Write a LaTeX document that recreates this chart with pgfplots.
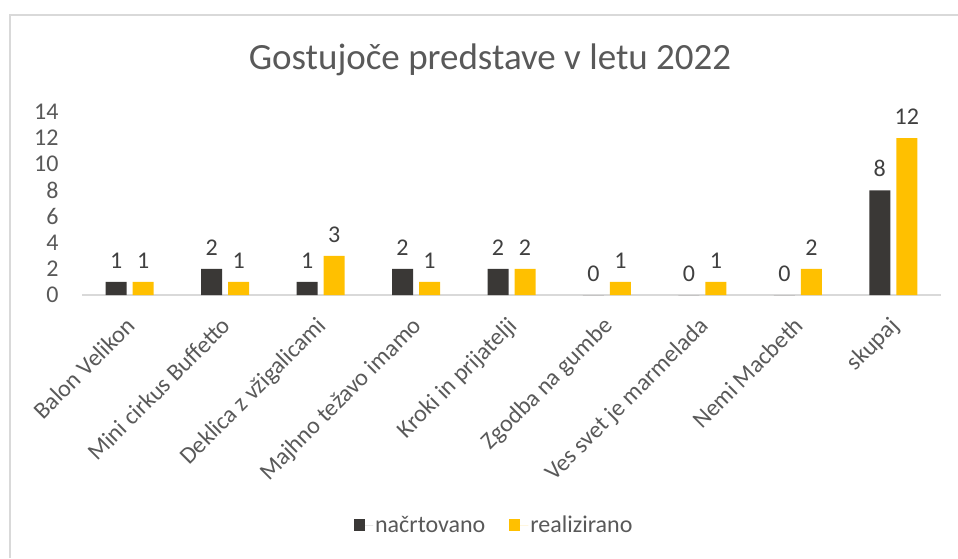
\documentclass[border=0pt]{standalone}
\usepackage{pgfplots}
\pgfplotsset{compat=1.18}
\usepackage{fontspec}
\setmainfont{Carlito}
\definecolor{dk}{HTML}{3A3836}
\definecolor{gd}{HTML}{FFC000}
\definecolor{txt}{HTML}{595959}
\definecolor{lbl}{HTML}{404040}
\definecolor{axl}{HTML}{D9D9D9}
\begin{document}
\begin{tikzpicture}[x=1pt,y=1pt]
\useasboundingbox (0,0) rectangle (958,558);
\draw[axl,line width=1.5pt] (10,0) -- (10,543) -- (958,543);
\node[txt,font=\fontsize{37}{44}\selectfont] at (490,498) {Gostujoče predstave v letu 2022};
\begin{axis}[
  at={(82pt,263pt)}, anchor=south west,
  scale only axis, width=859pt, height=183pt,
  xmin=-0.5, xmax=8.5, ymin=0, ymax=14,
  ybar=6pt, bar width=21pt,
  axis y line=none, axis x line*=bottom,
  x axis line style={axl,line width=1.2pt,-},
  xtick={0,...,8}, xtick style={draw=none},
  xticklabels={Balon Velikon,Mini cirkus Buffetto,Deklica z vžigalicami,Majhno težavo imamo,Kroki in prijatelji,Zgodba na gumbe,Ves svet je marmelada,Nemi Macbeth,skupaj},
  xticklabel style={xshift=-5pt,yshift=-16pt,rotate=45,anchor=north east,font=\fontsize{24}{28}\selectfont,text=txt,inner sep=0pt},
  enlargelimits=false,
  clip=false,
  nodes near coords,
  nodes near coords style={font=\fontsize{24}{28}\selectfont,text=lbl,anchor=south,yshift=10pt},
  /pgf/number format/assume math mode=true,
  legend columns=2,
  legend style={at={(0.48,-1.257)},anchor=center,draw=none,font=\fontsize{24}{28}\selectfont,text=txt,
    /tikz/every even column/.append style={column sep=22pt},
    /tikz/every odd column/.append style={column sep=0pt}},
  legend image code/.code={\fill[#1] (0pt,-6pt) rectangle (11pt,6pt); \path (0pt,0pt) -- (19pt,0pt);},
]
\addplot[fill=dk,draw=none] coordinates {(0,1) (1,2) (2,1) (3,2) (4,2) (5,0) (6,0) (7,0) (8,8)};
\addplot[fill=gd,draw=none] coordinates {(0,1) (1,1) (2,3) (3,1) (4,2) (5,1) (6,1) (7,2) (8,12)};
\legend{načrtovano,realizirano}
\end{axis}
% y tick labels
\begin{axis}[
  at={(82pt,263pt)}, anchor=south west,
  scale only axis, width=859pt, height=183pt,
  xmin=-0.5, xmax=8.5, ymin=0, ymax=14,
  axis x line=none, axis y line*=left, y axis line style={draw=none},
  ytick={0,2,...,14}, ytick style={draw=none},
  yticklabel style={font=\fontsize{24}{28}\selectfont,text=txt,anchor=east,xshift=-20pt},
  /pgf/number format/assume math mode=true,
]
\addplot[draw=none] coordinates {(0,0)};
\end{axis}
\end{tikzpicture}
\end{document}
